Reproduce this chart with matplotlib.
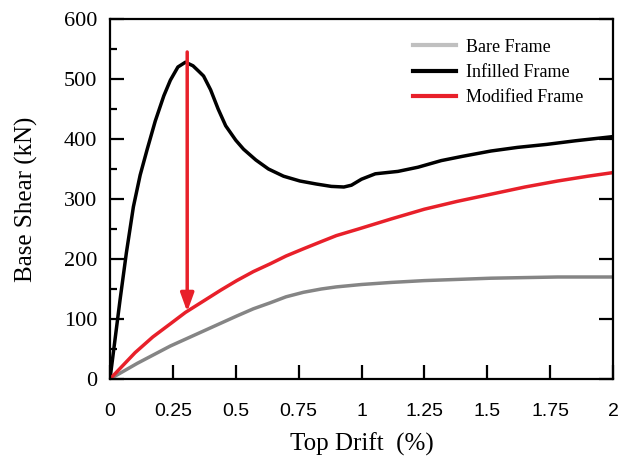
import matplotlib
matplotlib.use("Agg")
import matplotlib.pyplot as plt
from matplotlib.lines import Line2D

# values
bare_x = [0, 0.108, 0.24, 0.372, 0.504, 0.57, 0.637, 0.7, 0.769, 0.84, 0.9,
          1.0, 1.12, 1.25, 1.515, 1.78, 1.995]
bare_y = [0, 26, 55, 80, 105, 117, 127, 137, 144.5, 150, 153.5,
          157.5, 161, 164, 168, 170, 170]

infill_x = [0, 0.02, 0.04, 0.065, 0.093, 0.12, 0.148, 0.18, 0.214, 0.24, 0.27,
            0.30, 0.33, 0.355, 0.372, 0.40, 0.43, 0.46, 0.50, 0.531, 0.58,
            0.63, 0.69, 0.755, 0.82, 0.88, 0.93, 0.96, 1.0, 1.055, 1.1, 1.145,
            1.225, 1.317, 1.4, 1.515, 1.62, 1.736, 1.85, 2.0]
infill_y = [0, 66, 132, 210, 287, 340, 383, 430, 472, 498, 520,
            528, 522, 512, 505, 482, 450, 422, 398, 383, 365,
            350, 338, 330, 325, 321, 320, 323, 333, 342, 344, 346,
            353, 364, 371, 380, 386, 391, 397, 404]

mod_x = [0, 0.05, 0.1, 0.17, 0.24, 0.30, 0.372, 0.44, 0.504, 0.57, 0.637, 0.7,
         0.769, 0.84, 0.9, 0.988, 1.12, 1.25, 1.38, 1.515, 1.65, 1.78, 1.9, 2.0]
mod_y = [0, 22, 44, 70, 92, 111, 130, 148, 164, 179, 192, 205,
         217, 229, 239, 250, 267, 283, 296, 308, 320, 330, 338, 344]

x_ticks = [0, 0.25, 0.5, 0.75, 1, 1.25, 1.5, 1.75, 2]
x_tick_labels = ["0", "0.25", "0.5", "0.75", "1", "1.25", "1.5", "1.75", "2"]
y_ticks = [0, 100, 200, 300, 400, 500, 600]
y_minor = [50, 150, 250, 350, 450, 550]

arrow_x = 0.307
arrow_top = 545
arrow_tip = 112

SERIF = "Liberation Serif"
SANS = "Liberation Sans"
RED = "#e8202a"

fig = plt.figure(figsize=(6.19, 4.61), dpi=100)
ax = fig.add_axes([110 / 619, 1 - 379 / 461, 503 / 619, 360 / 461])

ax.plot(bare_x, bare_y, color="#858585", lw=2.5, solid_capstyle="round")
ax.plot(infill_x, infill_y, color="black", lw=2.5, solid_joinstyle="round")
ax.plot(mod_x, mod_y, color=RED, lw=2.5)

ax.annotate("", xy=(arrow_x, arrow_tip), xytext=(arrow_x, arrow_top),
            arrowprops=dict(arrowstyle="-|>,head_length=1.1,head_width=0.4",
                            color=RED, lw=2.5, shrinkA=0, shrinkB=0))

ax.set_xlim(0, 2)
ax.set_ylim(0, 600)
ax.set_xticks(x_ticks)
ax.set_xticklabels(x_tick_labels)
ax.set_yticks(y_ticks)
ax.set_yticks(y_minor, minor=True)

ax.tick_params(axis="x", which="major", direction="in", length=10, width=1.6,
               top=False, pad=17, labelsize=14, labelfontfamily=SANS)
ax.tick_params(axis="y", which="major", direction="in", length=10, width=1.6,
               right=True, pad=9, labelsize=16, labelfontfamily=SERIF)
ax.tick_params(axis="y", which="minor", direction="in", length=5, width=1.6,
               right=False)
for sp in ax.spines.values():
    sp.set_linewidth(1.6)

ax.set_xlabel("Top Drift  (%)", fontfamily=SERIF, fontsize=18, labelpad=9)
ax.set_ylabel("Base Shear (kN)", fontfamily=SERIF, fontsize=18, labelpad=19)

handles = [Line2D([], [], color="#c0c0c0", lw=3),
           Line2D([], [], color="black", lw=3),
           Line2D([], [], color=RED, lw=3)]
ax.legend(handles, ["Bare Frame", "Infilled Frame", "Modified Frame"],
          loc="upper left", bbox_to_anchor=(0.602, 0.945), frameon=False,
          borderaxespad=0, borderpad=0,
          prop={"family": SERIF, "size": 13}, handlelength=2.4,
          handletextpad=0.55, labelspacing=0.45)

fig.savefig("out.png", dpi=100)
